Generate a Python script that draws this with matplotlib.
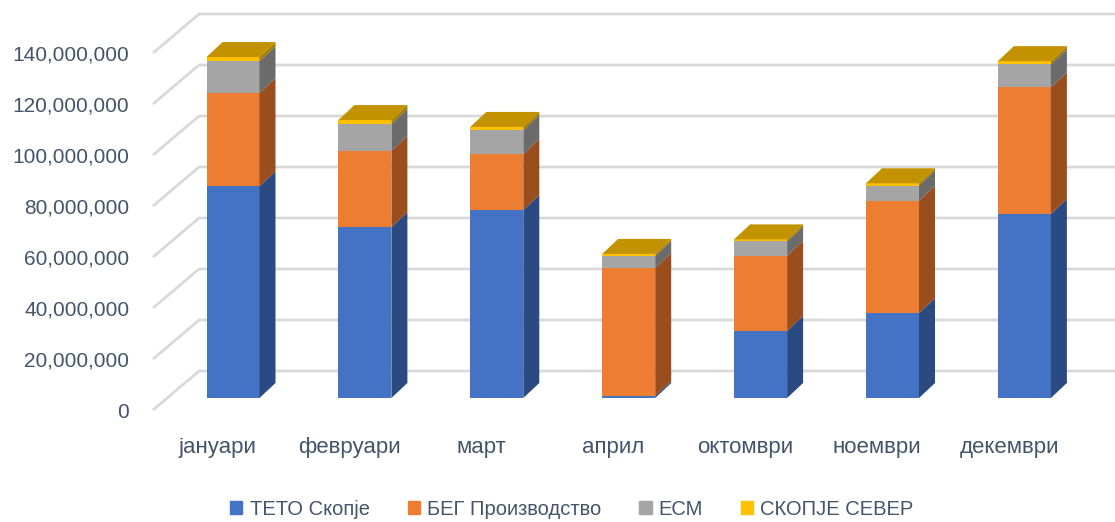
import matplotlib.pyplot as plt
from matplotlib import font_manager
from matplotlib.patches import Polygon, Patch

# pick a narrow face if there is one, else Liberation Sans a bit smaller
names = {f.name for f in font_manager.fontManager.ttflist}
if 'Liberation Sans Narrow' in names:
    fam, tick_fs, cat_fs, leg_fs = 'Liberation Sans Narrow', 18, 18, 16
else:
    fam, tick_fs, cat_fs, leg_fs = 'Liberation Sans', 15, 16, 14.5
plt.rcParams['font.family'] = [fam, 'DejaVu Sans']

# data (values in millions)
months = ['јануари', 'февруари', 'март', 'април', 'октомври', 'ноември', 'декември']
series = ['ТЕТО Скопје', 'БЕГ Производство', 'ЕСМ', 'СКОПЈЕ СЕВЕР']
teto = [83.0, 67.0, 73.7, 0.8, 26.3, 33.3, 72.2]
beg = [36.6, 29.9, 22.0, 50.2, 29.5, 44.1, 49.6]
esm = [12.5, 10.6, 9.4, 4.7, 5.6, 5.9, 9.1]
sever = [1.6, 1.5, 1.2, 0.8, 0.8, 0.9, 1.2]
yticks = [0, 20, 40, 60, 80, 100, 120, 140]

front_cols = ['#4472C4', '#ED7D31', '#A5A5A5', '#FFC000']
side_cols = ['#2C4A82', '#9A4E1E', '#6B6B6B', '#A67C00']
top_col = '#C29200'
grid_col = '#D9D9D9'
txt_col = '#44546A'

# projection helpers (category units / million units)
px_x = 131.9
px_y = 2.55
w = 53 / px_x
bdx, bdy = 16 / px_x, 15 / px_y          # bar depth
fdx, fdy = -14 / px_x, -12 / px_y        # front floor rel. to bar plane
wdx, wdy = 32 / px_x, 27 / px_y          # back wall rel. to bar plane

fig = plt.figure(figsize=(11.15, 5.22), dpi=100)
ax = fig.add_axes([0, 0, 1, 1])
ax.set_xlim(-233 / px_x, (1115 - 233) / px_x)
ax.set_ylim((398 - 522) / px_y, 398 / px_y)
ax.axis('off')

# gridlines: side wall diagonal + back wall
for v in yticks:
    ax.plot([-0.5 + fdx, -0.5 + wdx, 7.5], [v + fdy, v + wdy, v + wdy],
            color=grid_col, lw=2, zorder=1, solid_capstyle='butt')
    ax.text(-0.5 + fdx - 0.18, v + fdy - 0.9, f'{v * 1000000:,}', ha='right', va='center',
            fontsize=tick_fs, color=txt_col)

# bars
data = [teto, beg, esm, sever]
x = list(range(len(months)))
bottoms = [0] * len(months)
handles = []
for k, vals in enumerate(data):
    ax.bar(x, vals, width=w, bottom=bottoms, color=front_cols[k], zorder=3, linewidth=0)
    handles.append(Patch(color=front_cols[k], label=series[k]))
    for i in x:
        xr = i + w / 2
        lo, hi = bottoms[i], bottoms[i] + vals[i]
        ax.add_patch(Polygon([(xr, lo), (xr + bdx, lo + bdy), (xr + bdx, hi + bdy), (xr, hi)],
                             closed=True, facecolor=side_cols[k], edgecolor='none', zorder=3))
    bottoms = [bottoms[i] + vals[i] for i in x]

for i in x:
    xl, xr, t = i - w / 2, i + w / 2, bottoms[i]
    ax.add_patch(Polygon([(xl, t), (xl + bdx, t + bdy), (xr + bdx, t + bdy), (xr, t)],
                         closed=True, facecolor=top_col, edgecolor='none', zorder=4))
    ax.text(i + fdx - 0.01, -19.4, months[i], ha='center', va='center', fontsize=cat_fs,
            color=txt_col)

fig.legend(handles=handles, loc='center', bbox_to_anchor=(572 / 1115, 1 - 509 / 522), ncol=4,
           frameon=False, fontsize=leg_fs, handlelength=0.6, handleheight=0.6, handletextpad=0.35,
           columnspacing=1.9, labelcolor=txt_col)

fig.savefig('out.png', dpi=100)
